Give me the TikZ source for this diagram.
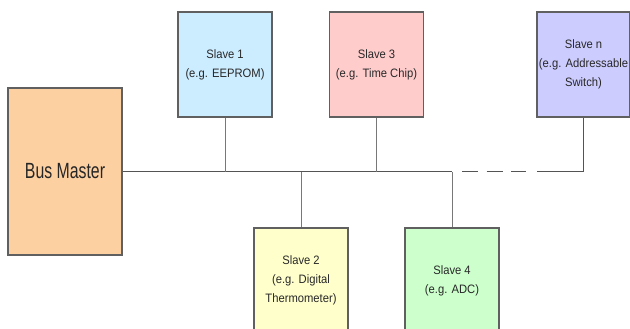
\documentclass[tikz,border=0pt]{standalone}
\usepackage{fontspec}
\setmainfont{Liberation Sans}
\newfontfamily\slavefont[FakeStretch=0.92]{Liberation Sans}
\newfontfamily\masterfont[FakeStretch=0.72]{Liberation Sans}
\usetikzlibrary{positioning,calc}
\definecolor{edgegrey}{RGB}{96,96,96}
\definecolor{wiregrey}{RGB}{84,84,84}
\definecolor{textgrey}{RGB}{40,40,40}
\definecolor{peach}{RGB}{253,208,162}
\definecolor{skyblue}{RGB}{204,236,255}
\definecolor{rosebox}{RGB}{255,204,204}
\definecolor{lavender}{RGB}{204,204,255}
\definecolor{creambox}{RGB}{255,255,204}
\definecolor{mintbox}{RGB}{204,255,204}
\tikzset{
  master/.style ={draw=edgegrey, line width=1.2pt, fill=peach, align=center,
                  minimum width=114pt, minimum height=167pt, inner sep=0pt,
                  font=\masterfont\fontsize{22}{26}\selectfont, text=black!85},
  slave/.style  ={draw=edgegrey, line width=1.2pt, align=center,
                  minimum width=94pt, minimum height=105pt, inner sep=0pt,
                  font=\slavefont\fontsize{12.2}{19}\selectfont, text=textgrey},
  wire/.style   ={draw=wiregrey, line width=1pt},
  stub/.style   ={draw=edgegrey!85, line width=1pt},
}

\begin{document}
\begin{tikzpicture}[x=1pt,y=-1pt]
\useasboundingbox (0,0) rectangle (630,329);
\clip (0,0) rectangle (630,329);
% master and slaves
\node[master] (bm) at (65,171.5) {Bus Master};
\node[slave,fill=skyblue]  (s1) at (225,64.5)   {Slave 1\\(e.g. EEPROM)};
\node[slave,fill=rosebox]  (s3) at (376.5,64.5) {Slave 3\\(e.g. Time Chip)};
\node[slave,fill=lavender,minimum width=93pt] (sn) at (583.5,64.5) {Slave n\\(e.g. Addressable\\Switch)};
\node[slave,fill=creambox] (s2) at (301,280.5)  {Slave 2\\(e.g. Digital\\Thermometer)};
\node[slave,fill=mintbox]  (s4) at (452,280.5)  {Slave 4\\(e.g. ADC)};
% bus
\coordinate (j4) at (s4.north |- bm.east);
\coordinate (d1) at (462,171.5);
\coordinate (d2) at (526,171.5);
\coordinate (d3) at (537,171.5);
\draw[wire] (bm.east) -- (j4);
\draw[wire,dash pattern=on 16pt off 8.5pt] (d1) -- (d2);
\draw[wire] (d3) -| (sn.south);
% drops
\draw[stub] (s1.south) -- (s1.south |- bm.east);
\draw[stub] (s3.south) -- (s3.south |- bm.east);
\draw[stub] (s2.north) -- (s2.north |- bm.east);
\draw[stub] (s4.north) -- (j4);
\end{tikzpicture}
\end{document}
